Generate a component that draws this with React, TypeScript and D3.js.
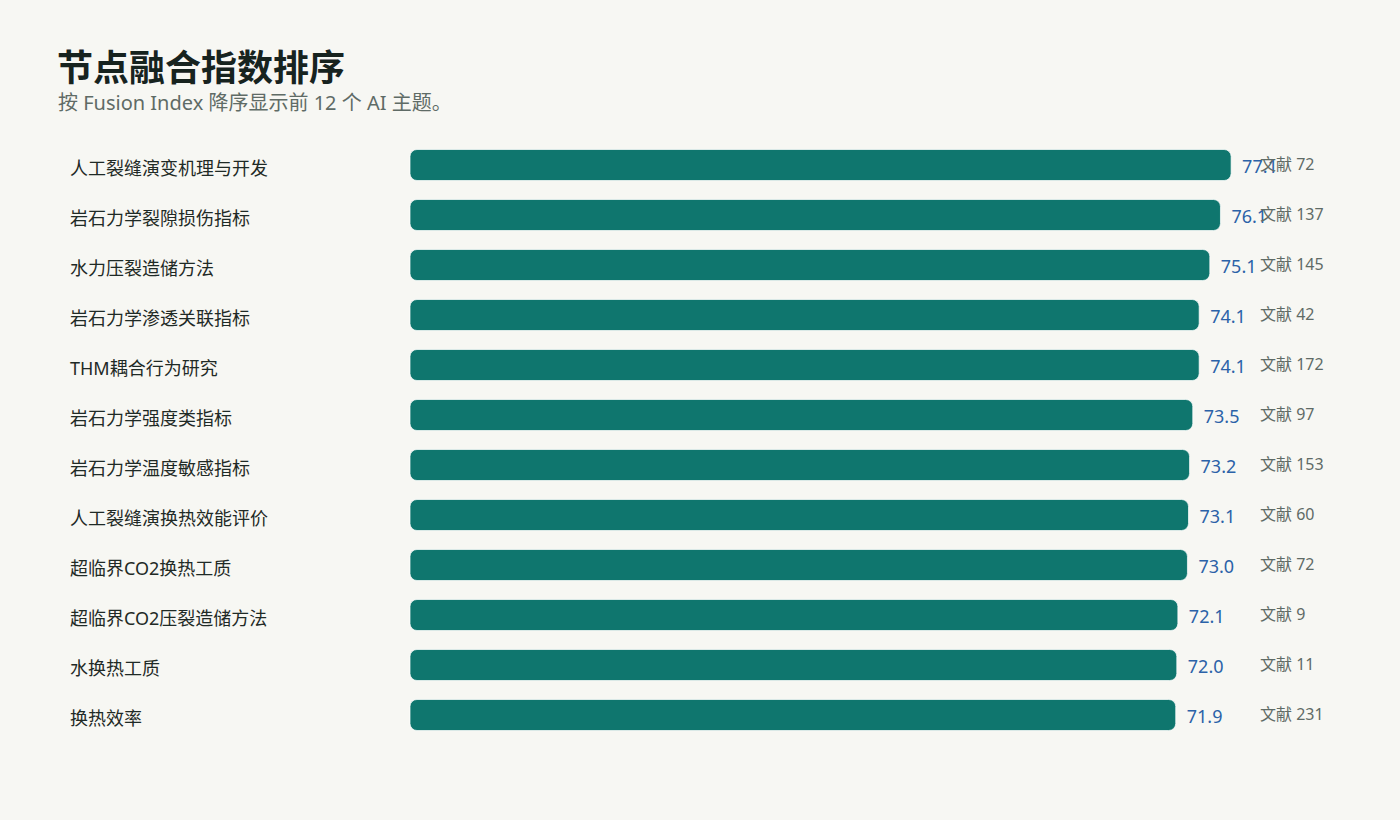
import React, { useEffect, useRef } from 'react';
import * as d3 from 'd3';

const topics = [
  '人工裂缝演变机理与开发',
  '岩石力学裂隙损伤指标',
  '水力压裂造储方法',
  '岩石力学渗透关联指标',
  'THM耦合行为研究',
  '岩石力学强度类指标',
  '岩石力学温度敏感指标',
  '人工裂缝演换热效能评价',
  '超临界CO2换热工质',
  '超临界CO2压裂造储方法',
  '水换热工质',
  '换热效率',
];
const fusionIndex = [77.1, 76.1, 75.1, 74.1, 74.1, 73.5, 73.2, 73.1, 73.0, 72.1, 72.0, 71.9];
const paperCounts = [72, 137, 145, 42, 172, 97, 153, 60, 72, 9, 11, 231];

const W = 1400;
const H = 820;
const BG = '#f7f7f3';
const FONT = '"Noto Sans", "Noto Sans CJK SC", sans-serif';

const App: React.FC = () => {
  const svgRef = useRef<SVGSVGElement>(null);

  useEffect(() => {
    document.body.style.margin = '0';
    document.body.style.background = BG;
    if (!svgRef.current) return;
    const svg = d3.select(svgRef.current);
    svg.selectAll('*').remove();

    svg.append('rect').attr('width', W).attr('height', H).attr('fill', BG);

    // Title
    svg.append('text')
      .attr('x', 57)
      .attr('y', 81)
      .style('font-family', FONT)
      .style('font-size', '36px')
      .style('font-weight', 'bold')
      .style('fill', '#17231f')
      .text('节点融合指数排序');

    svg.append('text')
      .attr('x', 58)
      .attr('y', 110)
      .style('font-family', FONT)
      .style('font-size', '20px')
      .style('fill', '#5f6b66')
      .text('按 Fusion Index 降序显示前 12 个 AI 主题。');

    const data = topics.map((t, i) => ({ topic: t, value: fusionIndex[i], count: paperCounts[i] }));

    const x = d3.scaleLinear().domain([0, 80]).range([410, 1262]);
    const y = d3.scaleBand<string>()
      .domain(topics)
      .range([140, 740])
      .paddingInner(0.38)
      .paddingOuter(0.19);

    const rows = svg.append('g')
      .selectAll('g')
      .data(data)
      .join('g');

    rows.append('text')
      .attr('x', 70)
      .attr('y', d => (y(d.topic) || 0) + y.bandwidth() / 2 + 5)
      .attr('dominant-baseline', 'middle')
      .style('font-family', FONT)
      .style('font-size', '18px')
      .style('fill', '#1f2a26')
      .text(d => d.topic);

    rows.append('rect')
      .attr('x', x(0))
      .attr('y', d => y(d.topic) || 0)
      .attr('width', d => x(d.value) - x(0))
      .attr('height', y.bandwidth())
      .attr('rx', 7)
      .attr('fill', '#0f766e')
      .attr('stroke', 'rgba(255,255,255,0.7)')
      .attr('stroke-width', 1);

    rows.append('text')
      .attr('x', d => x(d.value) + 11)
      .attr('y', d => (y(d.topic) || 0) + y.bandwidth() / 2 + 3)
      .attr('dominant-baseline', 'middle')
      .style('font-family', FONT)
      .style('font-size', '18px')
      .style('fill', '#2b62a8')
      .text(d => d.value.toFixed(1));

    rows.append('text')
      .attr('x', 1260)
      .attr('y', d => (y(d.topic) || 0) + y.bandwidth() / 2 + 1)
      .attr('dominant-baseline', 'middle')
      .style('font-family', FONT)
      .style('font-size', '16px')
      .style('fill', '#5f6b66')
      .text(d => `文献 ${d.count}`);
  }, []);

  return (
    <div>
      <svg ref={svgRef} width={W} height={H} style={{ display: 'block' }}></svg>
    </div>
  );
};

export default App;
